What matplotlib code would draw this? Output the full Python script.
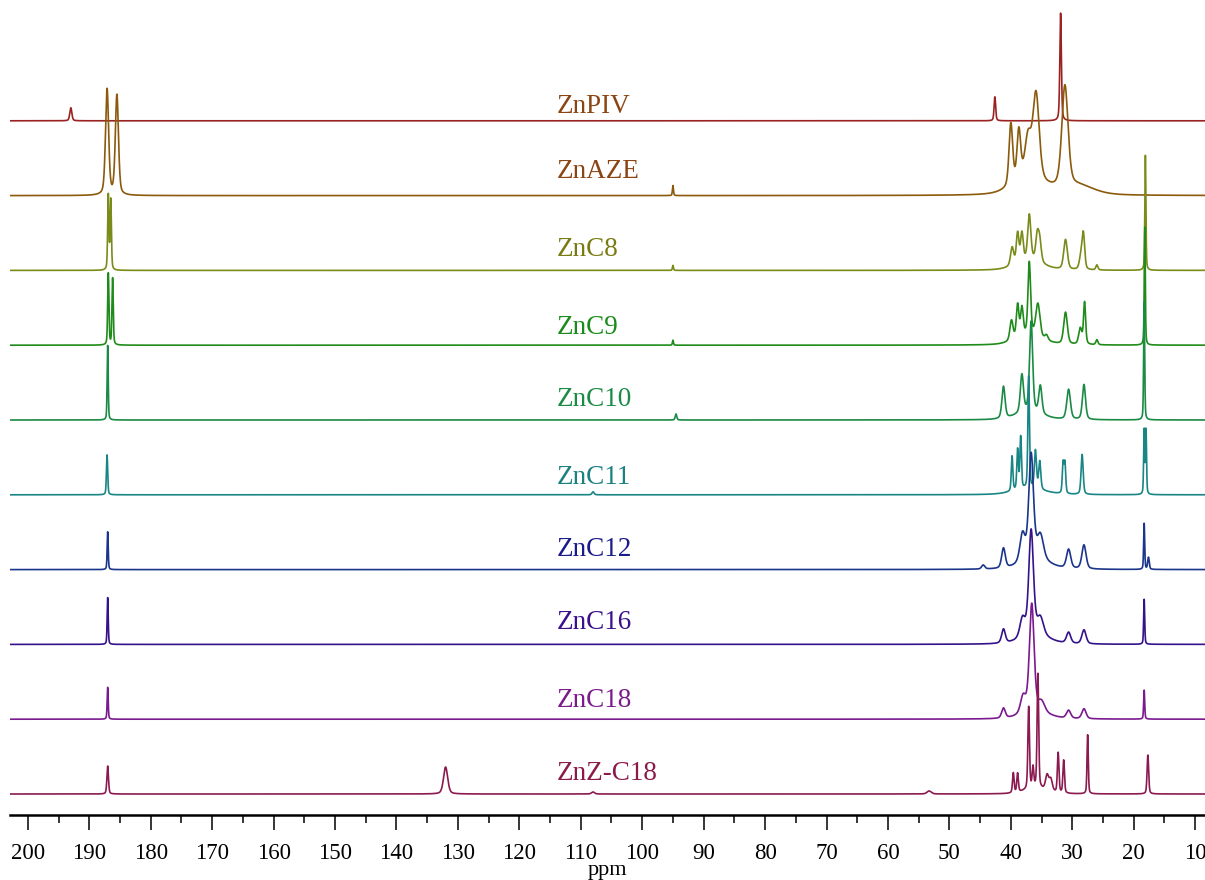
import numpy as np
import matplotlib
matplotlib.use('Agg')
import matplotlib.pyplot as plt

# sample names, top to bottom
names = ['ZnPIV', 'ZnAZE', 'ZnC8', 'ZnC9', 'ZnC10', 'ZnC11', 'ZnC12', 'ZnC16', 'ZnC18', 'ZnZ-C18']

# peak lists: (shift ppm, height, half width ppm)
peaks_piv = [(193.0, 13, 0.2), (42.6, 24, 0.15), (31.9, 108, 0.15)]
peaks_aze = [(187.1, 106, 0.3), (185.5, 100, 0.3), (95.0, 10, 0.1),
             (40.0, 62, 0.35), (38.7, 50, 0.35), (37.2, 40, 0.6), (35.9, 85, 0.6),
             (31.2, 102, 0.6), (37.0, 16, 3.0), (29.0, 9, 3.0)]
peaks_c8 = [(186.9, 75, 0.12), (186.5, 70, 0.12), (95.0, 5, 0.1),
            (39.8, 18, 0.3), (38.9, 30, 0.25), (38.2, 28, 0.25), (37.0, 45, 0.3),
            (35.7, 25, 0.3), (35.3, 20, 0.3), (31.1, 30, 0.35), (28.6, 12, 0.3),
            (28.2, 35, 0.25), (26.0, 5, 0.2), (18.1, 115, 0.1), (37.0, 10, 2.5)]
peaks_c9 = [(186.9, 72, 0.12), (186.2, 67, 0.12), (95.0, 5, 0.1),
            (39.9, 20, 0.3), (38.9, 33, 0.25), (38.2, 28, 0.25), (37.0, 72, 0.25),
            (35.6, 33, 0.4), (34.2, 5, 0.3), (31.1, 32, 0.35), (28.7, 16, 0.3),
            (28.0, 42, 0.2), (26.0, 5, 0.2), (18.2, 118, 0.1), (37.0, 10, 2.5)]
peaks_c10 = [(187.0, 75, 0.1), (94.5, 6, 0.15), (41.2, 32, 0.3), (38.2, 38, 0.3),
             (36.7, 90, 0.3), (35.2, 28, 0.3), (30.6, 30, 0.35), (28.1, 35, 0.3),
             (18.3, 118, 0.1), (37.0, 8, 2.5)]
peaks_c11 = [(187.1, 40, 0.12), (108.0, 3, 0.2), (39.8, 35, 0.15), (38.9, 40, 0.15),
             (38.4, 52, 0.15), (37.1, 112, 0.15), (36.0, 38, 0.2), (35.3, 28, 0.2),
             (31.5, 30, 0.15), (31.2, 30, 0.15), (28.4, 40, 0.2), (18.3, 64, 0.1),
             (18.0, 64, 0.1), (37.0, 6, 3.0)]
peaks_c12 = [(187.0, 38, 0.1), (44.5, 4, 0.3), (41.2, 20, 0.35), (38.1, 28, 0.5),
             (36.7, 105, 0.45), (35.2, 24, 0.6), (30.6, 19, 0.4), (28.1, 24, 0.4),
             (18.3, 46, 0.1), (17.6, 12, 0.15), (36.0, 10, 2.5)]
peaks_c16 = [(187.0, 47, 0.1), (41.2, 14, 0.35), (38.1, 19, 0.5), (36.7, 105, 0.45),
             (35.2, 17, 0.6), (30.6, 11, 0.4), (28.1, 14, 0.4), (18.3, 45, 0.1),
             (36.0, 9, 2.5)]
peaks_c18 = [(187.0, 32, 0.1), (41.2, 10, 0.35), (38.0, 17, 0.5), (36.6, 108, 0.45),
             (35.0, 10, 0.6), (30.6, 8, 0.4), (28.1, 10, 0.4), (18.3, 29, 0.1),
             (36.0, 7, 2.5)]
peaks_zc18 = [(187.0, 28, 0.15), (132.0, 27, 0.4), (108.0, 2, 0.3), (53.3, 3, 0.4),
              (39.6, 20, 0.15), (38.9, 19, 0.15), (37.1, 82, 0.15), (36.4, 20, 0.15),
              (35.6, 114, 0.15), (34.1, 15, 0.3), (33.5, 12, 0.3), (32.3, 40, 0.15),
              (31.4, 33, 0.15), (27.5, 59, 0.12), (17.7, 39, 0.15), (36.0, 6, 2.0)]

peak_sets = [peaks_piv, peaks_aze, peaks_c8, peaks_c9, peaks_c10,
             peaks_c11, peaks_c12, peaks_c16, peaks_c18, peaks_zc18]

line_colors = ['#9b2222', '#8b5a0a', '#7a8b1a', '#1f8b1a', '#1a8b45',
               '#1a8585', '#1a358b', '#34128b', '#7a1a8f', '#8b1a50']
label_colors = ['#8b4513', '#8b4513', '#7a7a12', '#1a8b1a', '#1a8b45',
                '#1a8080', '#1a1a8b', '#3a108b', '#7a1a8b', '#8b1a4a']
label_gap = [8, 18, 14, 11, 14, 11, 14, 15, 12, 14]

plt.rcParams['font.family'] = ['Liberation Serif', 'DejaVu Serif']

fig = plt.figure(figsize=(12.05, 8.8), dpi=100)
ax = fig.add_axes([10 / 1205, 65 / 880, 1195 / 1205, 815 / 880])

ppm = np.linspace(203.0, 8.0, 10000)
spacing = 74.8
eta = 0.4  # lorentzian fraction of the line shape
for i, (name, pk) in enumerate(zip(names, peak_sets)):
    base = 21 + (len(names) - 1 - i) * spacing
    y = np.zeros_like(ppm)
    for pos, h, w in pk:
        lor = w ** 2 / ((ppm - pos) ** 2 + w ** 2)
        gau = np.exp(-np.log(2) * ((ppm - pos) / w) ** 2)
        y += h * (eta * lor + (1 - eta) * gau)
    ax.plot(ppm, base + y, color=line_colors[i], lw=1.2)
    ax.text(113.9, base + label_gap[i], name, color=label_colors[i],
            fontsize=19.5, ha='left', va='baseline')

ax.set_xlim(202.9, 8.4)
ax.set_ylim(0, 815)
ax.set_yticks([])
for s in ['left', 'right', 'top']:
    ax.spines[s].set_visible(False)
ax.spines['bottom'].set_linewidth(1.8)
ax.set_xticks(np.arange(10, 201, 10))
ax.set_xticks(np.arange(15, 201, 10), minor=True)
ax.tick_params(axis='x', which='major', direction='out', length=10.8, width=1.1,
               labelsize=16.5, pad=9)
ax.tick_params(axis='x', which='minor', direction='out', length=5.8, width=1.1)
ax.set_xlabel('ppm', fontsize=16, labelpad=-2)
ax.patch.set_visible(False)

fig.savefig('out.png', dpi=100)
